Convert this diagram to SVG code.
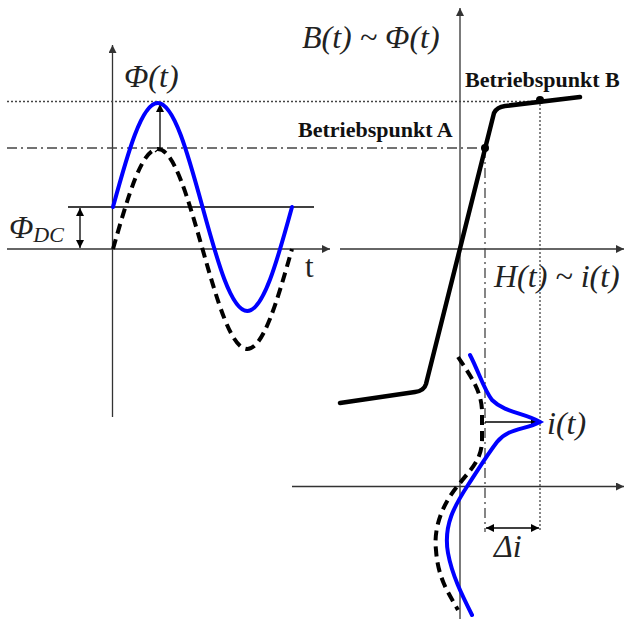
<svg xmlns="http://www.w3.org/2000/svg" width="625" height="619" viewBox="0 0 625 619">
<defs>
<marker id="ah" viewBox="0 0 10 10" refX="10" refY="5" markerWidth="10" markerHeight="8" markerUnits="userSpaceOnUse" orient="auto-start-reverse">
<path d="M0,0 L10,5 L0,10 z" fill="#000"/>
</marker>
<marker id="ax" viewBox="0 0 10 10" refX="10" refY="5" markerWidth="11" markerHeight="8" markerUnits="userSpaceOnUse" orient="auto">
<path d="M0,0 L10,5 L0,10 z" fill="#333"/>
</marker>
<style>
.axis{stroke:#333;stroke-width:1.3;fill:none}
.thin{stroke:#000;stroke-width:1.3;fill:none}
.dot{stroke:#444;stroke-width:1.3;fill:none;stroke-dasharray:2,2}
.dd{stroke:#444;stroke-width:1.3;fill:none;stroke-dasharray:10,4,2,4}
.blue{stroke:#0000ff;stroke-width:4;fill:none;stroke-linecap:round}
.dash{stroke:#000;stroke-width:4;fill:none;stroke-dasharray:10,6}
.curve{stroke:#000;stroke-width:4.5;fill:none;stroke-linecap:round;stroke-linejoin:round}
.m{font-family:"Liberation Serif","Times New Roman",serif;font-style:italic;fill:#222;font-size:32px}
.b{font-family:"Liberation Serif","Times New Roman",serif;font-weight:bold;font-size:22px;fill:#111}
</style>
</defs>
<g id="connectors">
<line class="axis" x1="112.5" y1="417" x2="112.5" y2="45" marker-end="url(#ax)"/>
<line class="axis" x1="7" y1="249" x2="330" y2="249" marker-end="url(#ax)"/>
<line class="axis" x1="460" y1="619" x2="460" y2="8" marker-end="url(#ax)"/>
<line class="axis" x1="340" y1="249" x2="624" y2="249" marker-end="url(#ax)"/>
<line class="axis" x1="292" y1="486.5" x2="624" y2="486.5" marker-end="url(#ax)"/>
<line class="thin" x1="68" y1="207" x2="314" y2="207"/>
<line class="dot" x1="7" y1="101.5" x2="540" y2="101.5"/>
<line class="dd" x1="7" y1="148" x2="485" y2="148"/>
<line class="dd" x1="485" y1="148" x2="485" y2="532"/>
<line class="dot" x1="540" y1="100" x2="540" y2="532"/>
<line class="thin" x1="80" y1="208" x2="80" y2="248" marker-start="url(#ah)" marker-end="url(#ah)"/>
<line class="thin" x1="486" y1="528" x2="539" y2="528" marker-start="url(#ah)" marker-end="url(#ah)"/>
<path class="thin" d="M155,152 L160,148 L160,104" stroke-width="1.8" marker-end="url(#ah)"/>
<line class="thin" x1="485" y1="422" x2="539" y2="422" stroke-width="1.8" marker-end="url(#ah)"/>
</g>
<g id="phi-dc-wave">
<path class="dash" d="M113,249 C127.6,197.8 141.56,149 157.75,149 C173.94,149 187.9,197.8 202.5,249 C217.1,300.2 231.06,349 247.25,349 C263.44,349 277.4,300.2 292,249"/>
</g>
<g id="phi-wave">
<path class="blue" d="M113,207 C127.6,153.7 141.56,103 157.75,103 C173.94,103 187.9,153.7 202.5,207 C217.1,260.3 231.06,311 247.25,311 C263.44,311 277.4,260.3 292,207"/>
</g>
<g id="bh-curve">
<path class="curve" d="M340,403 L415,392 Q424,391 426,384 L494,113 Q497,107 505,106 L580,97"/>
<circle cx="485" cy="148" r="4" fill="#000"/>
<circle cx="540" cy="100" r="4" fill="#000"/>
</g>
<g id="current-dc">
<path class="dash" d="M458,357 C470,375 481,390 482,410 L482,440 C482,460 470,470 460,483 C445,500 433,525 436,550 C438,580 450,595 458,610"/>
</g>
<g id="current">
<path class="blue" d="M470,355 C478,370 484,390 492,400 C505,413 525,413 540,422 C525,430 508,428 497,442 C487,455 478,470 468,485 C455,505 443,525 448,553 C452,575 462,595 472,615"/>
</g>
<g id="labels">
<text class="m" x="124" y="87">Φ(t)</text>
<text class="m" x="302" y="48">B(t) ~ Φ(t)</text>
<text class="m" x="494" y="287">H(t) ~ i(t)</text>
<text class="m" x="547" y="434">i(t)</text>
<text class="m" x="494" y="557">Δi</text>
<text class="m" x="9" y="238" font-size="31">Φ<tspan font-size="22" dy="4">DC</tspan></text>
<text x="305" y="277" font-family="Liberation Serif, serif" font-size="31" fill="#222">t</text>
<text class="b" x="465" y="87">Betriebspunkt B</text>
<text class="b" x="298" y="137">Betriebspunkt A</text>
</g>
</svg>
